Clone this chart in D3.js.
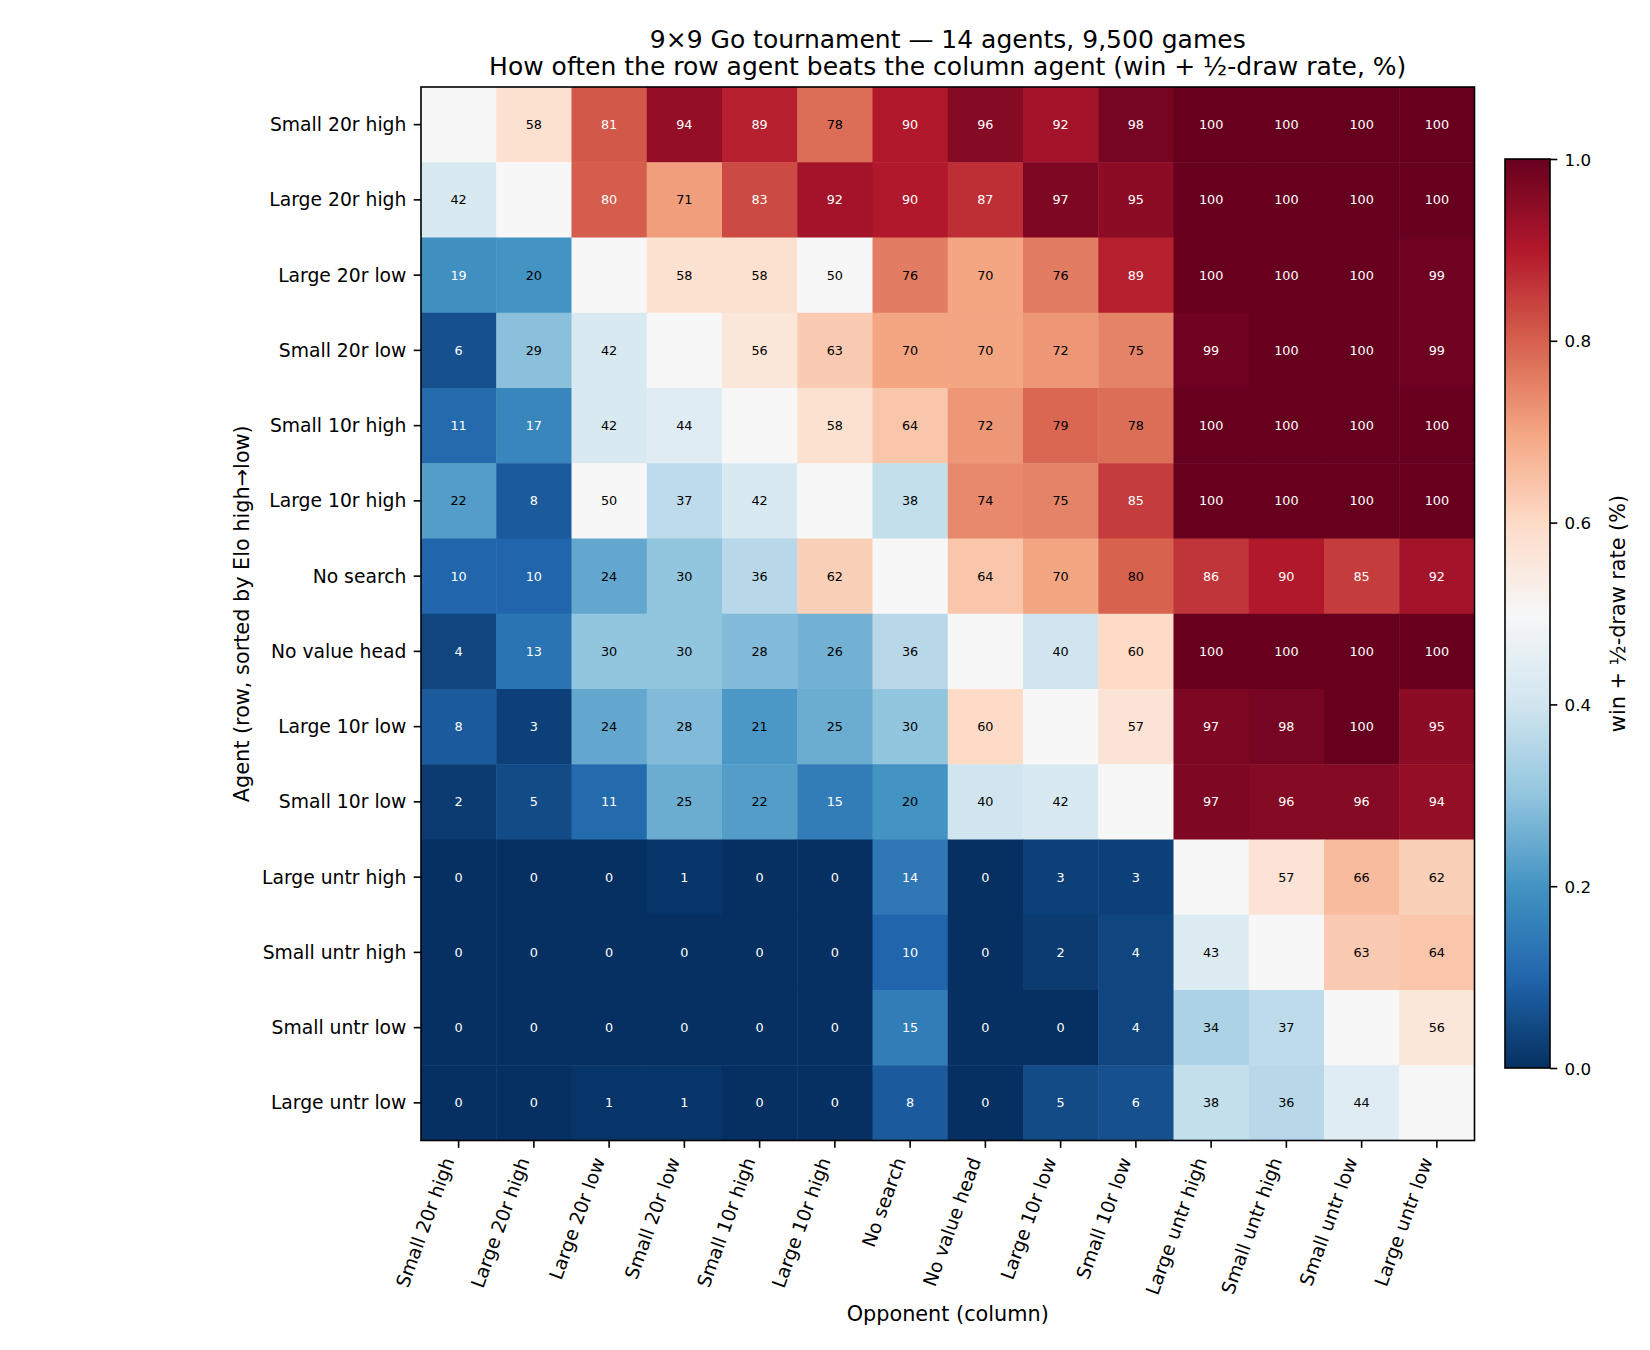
<!DOCTYPE html>
<html>
<head>
<meta charset="utf-8">
<script src="https://cdn.jsdelivr.net/npm/d3@7"></script>
<style>
  body { margin: 0; background: #fff; }
  text { font-family: "DejaVu Sans", sans-serif; fill: #000; }
</style>
</head>
<body>
<div id="chart"></div>
<script>
// agents, sorted by Elo (high -> low); rows and columns use the same order
var agents = [
  "Small 20r high", "Large 20r high", "Large 20r low", "Small 20r low",
  "Small 10r high", "Large 10r high", "No search", "No value head",
  "Large 10r low", "Small 10r low", "Large untr high", "Small untr high",
  "Small untr low", "Large untr low"
];

// win + 1/2-draw rate in %, row agent vs column agent (null = self)
var winRates = [
  [null, 58, 81, 94, 89, 78, 90, 96, 92, 98, 100, 100, 100, 100],
  [42, null, 80.4, 71, 83, 92, 90, 87, 97, 95, 100, 100, 100, 100],
  [19, 20, null, 58, 58, 50, 76, 70, 76, 89, 100, 100, 100, 99],
  [6, 29, 42, null, 56, 63, 70, 70, 72, 75, 99, 100, 100, 99],
  [11, 17, 42, 44, null, 58, 64, 72, 79, 78, 100, 100, 100, 100],
  [22, 8, 50, 37, 42, null, 38, 74, 75, 85, 100, 100, 100, 100],
  [10, 10, 24, 30, 36, 62, null, 64, 70, 79.6, 86, 90, 85, 92],
  [4, 13, 30, 30, 28, 26, 36, null, 40, 60, 100, 100, 100, 100],
  [8, 3, 24, 28, 21, 25, 30, 60, null, 57, 97, 98, 100, 95],
  [2, 5, 11, 25, 22, 15, 20, 40, 42, null, 97, 96, 96, 94],
  [0, 0, 0, 1, 0, 0, 14, 0, 3, 3, null, 57, 66, 62],
  [0, 0, 0, 0, 0, 0, 10, 0, 2, 4, 43, null, 63, 64],
  [0, 0, 0, 0, 0, 0, 15, 0, 0, 4, 34, 37, null, 56],
  [0, 0, 1, 1, 0, 0, 8, 0, 5, 6, 38, 36, 44, null]
];

var cbarTicks = [0, 0.2, 0.4, 0.6, 0.8, 1.0];

// RdBu_r (ColorBrewer stops, blue -> red)
var rdbuStops = ["#053061", "#2166ac", "#4393c3", "#92c5de", "#d1e5f0", "#f7f7f7",
                 "#fddbc7", "#f4a582", "#d6604d", "#b2182b", "#67001f"];

var width = 1650, height = 1350;
var hm = { left: 421, top: 87, right: 1474.5, bottom: 1140.5 };
var cb = { left: 1505, right: 1550, top: 159, bottom: 1068 };
var tickLen = 7.3;

var svg = d3.select("#chart").append("svg")
    .attr("width", width)
    .attr("height", height);

var x = d3.scaleBand().domain(agents).range([hm.left, hm.right]);
var y = d3.scaleBand().domain(agents).range([hm.top, hm.bottom]);

var color = d3.scaleLinear()
    .domain(d3.range(rdbuStops.length).map(function(i) { return i / (rdbuStops.length - 1); }))
    .range(rdbuStops)
    .interpolate(d3.interpolateRgb)
    .clamp(true);

// flatten matrix into cells
var cells = [];
winRates.forEach(function(row, i) {
  row.forEach(function(v, j) {
    cells.push({ row: agents[i], col: agents[j], value: v });
  });
});

var g = svg.append("g");

g.selectAll("rect.cell")
    .data(cells)
    .enter().append("rect")
    .attr("class", "cell")
    .attr("x", function(d) { return x(d.col); })
    .attr("y", function(d) { return y(d.row); })
    .attr("width", x.bandwidth() + 0.5)
    .attr("height", y.bandwidth() + 0.5)
    .attr("fill", function(d) { return color(d.value === null ? 0.5 : d.value / 100); });

// cell labels, white on the dark ends of the scale
g.selectAll("text.ann")
    .data(cells.filter(function(d) { return d.value !== null; }))
    .enter().append("text")
    .attr("class", "ann")
    .attr("x", function(d) { return x(d.col) + x.bandwidth() / 2; })
    .attr("y", function(d) { return y(d.row) + y.bandwidth() / 2; })
    .attr("text-anchor", "middle")
    .attr("dominant-baseline", "central")
    .style("font-size", "12.8px")
    .style("fill", function(d) { var v = d.value / 100; return (v > 0.8 || v < 0.2) ? "#fff" : "#000"; })
    .text(function(d) { return Math.round(d.value); });

// frame
svg.append("rect")
    .attr("x", hm.left).attr("y", hm.top)
    .attr("width", hm.right - hm.left).attr("height", hm.bottom - hm.top)
    .attr("fill", "none").attr("stroke", "#000").attr("stroke-width", 1.6);

// y axis
var yAxis = svg.append("g")
    .attr("transform", "translate(" + hm.left + ",0)")
    .call(d3.axisLeft(y).tickSize(tickLen).tickPadding(7.3));
yAxis.select(".domain").remove();
yAxis.selectAll(".tick line").attr("stroke", "#000").attr("stroke-width", 1.6);
yAxis.selectAll(".tick text")
    .attr("dy", null)
    .attr("dominant-baseline", "central")
    .style("font-size", "18.75px")
    .style("font-family", "DejaVu Sans")
    .attr("fill", "#000");

// x axis with rotated labels
var xAxis = svg.append("g")
    .attr("transform", "translate(0," + hm.bottom + ")")
    .call(d3.axisBottom(x).tickSize(tickLen).tickFormat(""));
xAxis.select(".domain").remove();
xAxis.selectAll(".tick line").attr("stroke", "#000").attr("stroke-width", 1.6);

svg.append("g").selectAll("text")
    .data(agents)
    .enter().append("text")
    .attr("transform", function(d) {
      return "translate(" + (x(d) + x.bandwidth() / 2 - 4) + "," + (hm.bottom + 20) + ") rotate(-70)";
    })
    .attr("text-anchor", "end")
    .style("font-size", "18.75px")
    .text(function(d) { return d; });

// axis titles
svg.append("text")
    .attr("x", (hm.left + hm.right) / 2)
    .attr("y", 1321)
    .attr("text-anchor", "middle")
    .style("font-size", "20.8px")
    .text("Opponent (column)");

svg.append("text")
    .attr("transform", "translate(249," + ((hm.top + hm.bottom) / 2) + ") rotate(-90)")
    .attr("text-anchor", "middle")
    .style("font-size", "20.8px")
    .text("Agent (row, sorted by Elo high\u2192low)");

// title
svg.append("text")
    .attr("x", (hm.left + hm.right) / 2)
    .attr("y", 48)
    .attr("text-anchor", "middle")
    .style("font-size", "25px")
    .text("9\u00d79 Go tournament \u2014 14 agents, 9,500 games");
svg.append("text")
    .attr("x", (hm.left + hm.right) / 2)
    .attr("y", 75)
    .attr("text-anchor", "middle")
    .style("font-size", "25px")
    .text("How often the row agent beats the column agent (win + \u00bd-draw rate, %)");

// colorbar
var cy = d3.scaleLinear().domain([0, 1]).range([cb.bottom, cb.top]);

var grad = svg.append("defs").append("linearGradient")
    .attr("id", "cbar")
    .attr("x1", "0").attr("y1", "1").attr("x2", "0").attr("y2", "0");
grad.selectAll("stop")
    .data(d3.range(0, 1.0001, 0.02))
    .enter().append("stop")
    .attr("offset", function(d) { return d; })
    .attr("stop-color", function(d) { return color(d); });

svg.append("rect")
    .attr("x", cb.left).attr("y", cb.top)
    .attr("width", cb.right - cb.left).attr("height", cb.bottom - cb.top)
    .attr("fill", "url(#cbar)")
    .attr("stroke", "#000").attr("stroke-width", 1.6);

var cAxis = svg.append("g")
    .attr("transform", "translate(" + cb.right + ",0)")
    .call(d3.axisRight(cy).tickValues(cbarTicks).tickFormat(d3.format(".1f")).tickSize(tickLen).tickPadding(7.3));
cAxis.select(".domain").remove();
cAxis.selectAll(".tick line").attr("stroke", "#000").attr("stroke-width", 1.6);
cAxis.selectAll(".tick text")
    .attr("dy", null)
    .attr("dominant-baseline", "central")
    .style("font-size", "16.7px")
    .style("font-family", "DejaVu Sans")
    .attr("fill", "#000");

svg.append("text")
    .attr("transform", "translate(1625," + ((cb.top + cb.bottom) / 2) + ") rotate(-90)")
    .attr("text-anchor", "middle")
    .style("font-size", "20.8px")
    .text("win + \u00bd-draw rate (%)");
</script>
</body>
</html>
